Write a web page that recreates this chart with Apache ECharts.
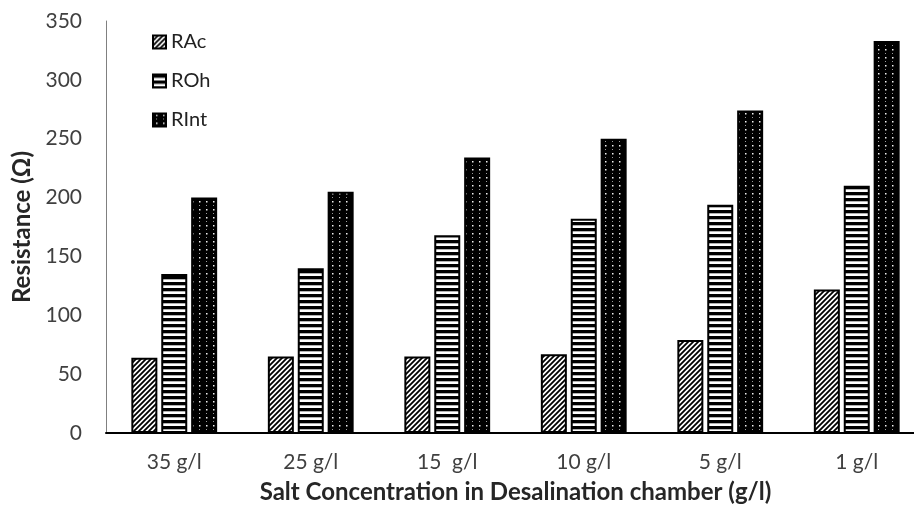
<!DOCTYPE html>
<html>
<head>
<meta charset="utf-8">
<style>
  html, body { margin: 0; padding: 0; background: #fff; overflow: hidden; width: 914px; height: 510px; }
  /* the plot area runs past the right edge of the visible page */
  #chart { width: 930px; height: 510px; }
</style>
<script src="https://cdn.jsdelivr.net/npm/echarts@6/dist/echarts.min.js"></script>
</head>
<body>
<div id="chart"></div>
<script>
// Salt concentration categories and resistance components (Ω)
const categories = ['35 g/l', '25 g/l', '15  g/l', '10 g/l', '5 g/l', '1 g/l'];
const rAc  = [64, 65, 65, 67, 79, 122];
const rOh  = [135, 140, 168, 182, 194, 210];
const rInt = [200, 205, 234, 250, 274, 333];
const yTicks = { min: 0, max: 350, interval: 50 };

// Monochrome fill patterns drawn on small tiles
function tile(w, h, draw) {
  const c = document.createElement('canvas');
  c.width = w; c.height = h;
  draw(c.getContext('2d'), w, h);
  return { image: c, repeat: 'repeat' };
}
const hatchFill = tile(5, 5, (g, w, h) => {
  g.fillStyle = '#fff'; g.fillRect(0, 0, w, h);
  g.strokeStyle = '#000'; g.lineWidth = 1.8;
  g.beginPath();
  for (let k = -1; k <= 1; k++) {
    g.moveTo(k * w - 1, h + 1);
    g.lineTo(k * w + w + 1, -1);
  }
  g.stroke();
});
const stripeFill = tile(4, 6, (g, w, h) => {
  g.fillStyle = '#fff'; g.fillRect(0, 0, w, h);
  g.fillStyle = '#000'; g.fillRect(0, 0, w, 3.3);
});
const dotFill = tile(7, 8, (g, w, h) => {
  g.fillStyle = '#000'; g.fillRect(0, 0, w, h);
  g.fillStyle = '#f2f2f2'; g.fillRect(3, 1, 1.5, 1.5);
  g.fillStyle = '#9a9a9a'; g.fillRect(3, 5, 1, 1);
});

const font = 'Lato';
const textColor = '#404040';

function barSeries(name, data, fill) {
  return {
    name, type: 'bar', data,
    barWidth: 26,
    barGap: '15%',
    itemStyle: { color: fill, borderColor: '#000', borderWidth: 2 }
  };
}

const chart = echarts.init(document.getElementById('chart'), null, { renderer: 'canvas' });
chart.setOption({
  animation: false,
  backgroundColor: '#fff',
  grid: { left: 106, top: 21, right: 5, bottom: 77, containLabel: false },
  legend: {
    orient: 'vertical',
    left: 147, top: 26,
    itemWidth: 13, itemHeight: 13,
    itemGap: 17,
    icon: 'rect',
    textStyle: { fontFamily: font, fontSize: 20, color: '#222', lineHeight: 22 },
    data: ['RAc', 'ROh', 'RInt']
  },
  xAxis: {
    type: 'category',
    data: categories,
    axisTick: { show: false },
    axisLine: { lineStyle: { color: '#000', width: 2 } },
    axisLabel: { fontFamily: font, fontSize: 21, color: textColor, margin: 19 },
    name: 'Salt Concentration in Desalination chamber (g/l)',
    nameLocation: 'middle',
    nameGap: 47,
    nameTextStyle: { fontFamily: font, fontSize: 24, fontWeight: 'bold', color: '#262626' }
  },
  yAxis: {
    type: 'value',
    min: yTicks.min, max: yTicks.max, interval: yTicks.interval,
    splitLine: { show: false },
    axisTick: { show: false },
    axisLine: { show: true, lineStyle: { color: '#808080', width: 1 } },
    axisLabel: { fontFamily: font, fontSize: 21, color: textColor, margin: 24 },
    name: 'Resistance (Ω)',
    nameLocation: 'middle',
    nameGap: 71,
    nameRotate: 90,
    nameTextStyle: { fontFamily: font, fontSize: 24, fontWeight: 'bold', color: '#262626' }
  },
  series: [
    barSeries('RAc', rAc, hatchFill),
    barSeries('ROh', rOh, stripeFill),
    barSeries('RInt', rInt, dotFill)
  ]
});
</script>
</body>
</html>
